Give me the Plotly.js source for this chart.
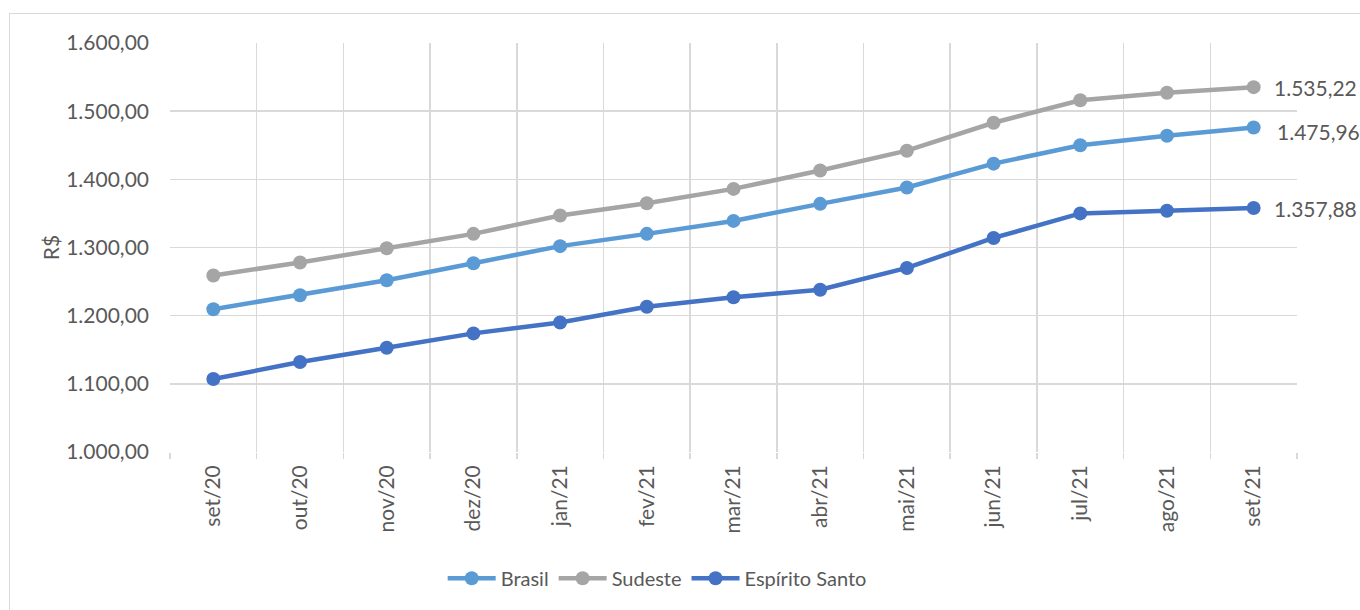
<!DOCTYPE html>
<html><head><meta charset="utf-8">
<script src="https://cdn.plot.ly/plotly-3.0.1.min.js"></script>
<style>
html,body{margin:0;padding:0;background:#fff;overflow:hidden;}
#frame{position:absolute;left:9px;top:13px;width:1400px;height:700px;border:1.5px solid #d9d9d9;box-sizing:border-box;}
#chart{position:absolute;left:0;top:0;width:1360px;height:610px;}
</style></head>
<body>
<div id="frame"></div>
<div id="chart"></div>
<script>
const months = ["set/20","out/20","nov/20","dez/20","jan/21","fev/21","mar/21","abr/21","mai/21","jun/21","jul/21","ago/21","set/21"];
const brasil = [1209.5,1230,1252,1277,1302,1320,1339,1364,1388,1423,1450,1464,1475.96];
const sudeste = [1259,1278,1299,1320,1347,1365,1386,1413,1442,1483,1516,1527,1535.22];
const espiritoSanto = [1107,1132,1153,1174,1190,1213,1227,1238,1270,1314,1350,1354,1357.88];
const yTicks = [1000,1100,1200,1300,1400,1500,1600];

const font = "Lato, 'Open Sans', sans-serif";
const txt = "#595959";
function series(name, y, color){
  return {type:"scatter", mode:"lines+markers", name:name, x:months, y:y,
    line:{color:color, width:4.5}, marker:{color:color, size:14}};
}
const data = [
  series("Brasil", brasil, "#5b9bd5"),
  series("Sudeste", sudeste, "#a5a5a5"),
  series("Espírito Santo", espiritoSanto, "#4472c4")
];
function fmt(v){
  return v.toFixed(2).replace(".",",").replace(/\B(?=(\d{3})+(?!\d))/g,".");
}
const last = months.length-1;
const ann = [
  {y:sudeste[last], xshift:18},
  {y:brasil[last], xshift:21, yshift:-4},
  {y:espiritoSanto[last], xshift:18}
].map(a=>({x:months[last], y:a.y, text:fmt(a.y), showarrow:false, xanchor:"left",
  xshift:a.xshift, yshift:a.yshift||0, font:{family:font, size:21, color:txt}}));

const layout = {
  width:1360, height:610,
  margin:{l:170, r:63, t:43, b:158, autoexpand:false},
  paper_bgcolor:"rgba(0,0,0,0)", plot_bgcolor:"#fff",
  separators:",.",
  showlegend:true,
  legend:{orientation:"h", xref:"container", x:0.3255, xanchor:"left", yref:"container", y:0.052, yanchor:"middle",
    font:{family:font, size:20, color:txt}, tracegroupgap:0, itemwidth:48},
  xaxis:{type:"category", tickson:"boundaries", showgrid:true, gridcolor:"#d9d9d9", gridwidth:1.5,
    ticks:"outside", ticklen:6, tickcolor:"#d9d9d9", tickwidth:1.5, tickangle:-90,
    tickfont:{family:font, size:21, color:txt}, showline:false, zeroline:false, automargin:false,
    ticklabelstandoff:8, range:[-0.5, 12.5], fixedrange:true},
  yaxis:{range:[1000,1600], tickvals:yTicks, tickformat:",.2f", showgrid:true, automargin:false,
    gridcolor:"#d9d9d9", gridwidth:1.5, zeroline:false, showline:false,
    tickfont:{family:font, size:21, color:txt}, ticks:"", ticklabelstandoff:20,
    title:{text:"R$", font:{family:font, size:21, color:txt}, standoff:0}},
  annotations:ann
};
Plotly.newPlot("chart", data, layout, {displayModeBar:false, staticPlot:true});
</script>
</body></html>
